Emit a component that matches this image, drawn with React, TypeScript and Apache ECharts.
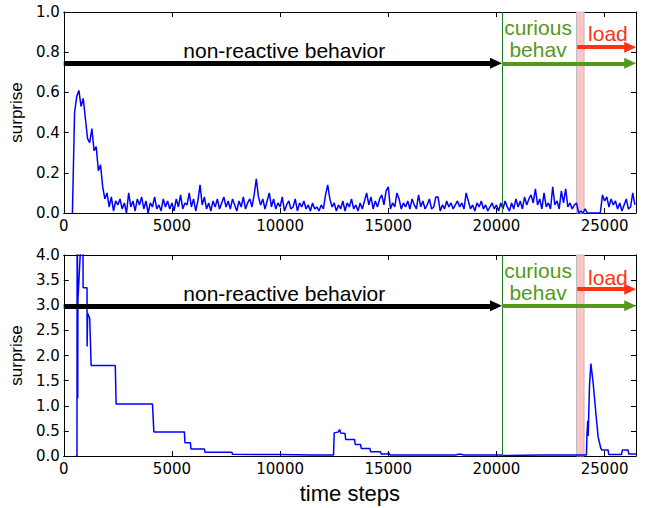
import React, { useEffect, useRef } from 'react';
import * as echarts from 'echarts';

// ---------- data ----------
const X_MAX = 26450;
const X_TICK_STEP = 5000;
const TOP_Y_MAX = 1.0;
const TOP_Y_STEP = 0.2;
const BOTTOM_Y_MAX = 4.0;
const BOTTOM_Y_STEP = 0.5;

// top panel: surprise sampled every 100 time steps starting at 400
const TOP_START = 400;
const TOP_STEP = 100;
const topSurprise = [
  0.00, 0.50, 0.58, 0.61, 0.53, 0.57, 0.47, 0.37, 0.35, 0.42,
  0.31, 0.33, 0.21, 0.24, 0.13, 0.07, 0.10, 0.03, 0.08, 0.01,
  0.06, 0.04, 0.07, 0.02, 0.05, 0.00, 0.10, 0.03, 0.06, 0.01,
  0.07, 0.04, 0.08, 0.02, 0.06, 0.00, 0.05, 0.03, 0.08, 0.02,
  0.04, 0.01, 0.07, 0.03, 0.06, 0.02, 0.05, 0.01, 0.07, 0.03,
  0.09, 0.02, 0.05, 0.04, 0.10, 0.03, 0.07, 0.01, 0.06, 0.14,
  0.04, 0.08, 0.02, 0.05, 0.01, 0.06, 0.03, 0.07, 0.02, 0.05,
  0.08, 0.03, 0.06, 0.02, 0.07, 0.04, 0.01, 0.06, 0.03, 0.08,
  0.02, 0.05, 0.07, 0.03, 0.09, 0.17, 0.08, 0.04, 0.07, 0.02,
  0.06, 0.10, 0.03, 0.07, 0.02, 0.05, 0.03, 0.08, 0.01, 0.04,
  0.06, 0.02, 0.03, 0.07, 0.01, 0.05, 0.03, 0.06, 0.02, 0.04,
  0.01, 0.05, 0.02, 0.03, 0.01, 0.04, 0.02, 0.09, 0.14, 0.07,
  0.03, 0.05, 0.01, 0.04, 0.02, 0.06, 0.01, 0.05, 0.03, 0.07,
  0.02, 0.04, 0.01, 0.05, 0.02, 0.06, 0.10, 0.04, 0.08, 0.02,
  0.06, 0.03, 0.07, 0.09, 0.04, 0.11, 0.13, 0.02, 0.05, 0.03,
  0.10, 0.07, 0.02, 0.05, 0.03, 0.06, 0.02, 0.07, 0.04, 0.02,
  0.09, 0.03, 0.06, 0.02, 0.04, 0.07, 0.02, 0.03, 0.08, 0.08,
  0.01, 0.04, 0.02, 0.06, 0.03, 0.05, 0.02, 0.04, 0.06, 0.03,
  0.05, 0.02, 0.10, 0.06, 0.02, 0.04, 0.01, 0.05, 0.03, 0.06,
  0.02, 0.04, 0.01, 0.03, 0.05, 0.02, 0.04, 0.01, 0.05, 0.02,
  0.06, 0.03, 0.01, 0.05, 0.02, 0.07, 0.03, 0.06, 0.02, 0.08,
  0.04, 0.07, 0.09, 0.05, 0.12, 0.04, 0.07, 0.02, 0.10, 0.03,
  0.05, 0.02, 0.13, 0.04, 0.06, 0.02, 0.11, 0.05, 0.12, 0.03,
  0.05, 0.02, 0.04, 0.05, 0.00, 0.01, 0.00, 0.02, 0.00, 0.00,
  0.00, 0.00, 0.00, 0.00, 0.00, 0.09, 0.06, 0.08, 0.03, 0.07,
  0.04, 0.06, 0.02, 0.05, 0.01, 0.04, 0.07, 0.02, 0.03, 0.10,
  0.04,
];

// bottom panel: [time step, surprise]
const bottomSurprise: [number, number][] = [
  [560, 0], [612, 0], [620, 6.0], [638, 3.1], [646, 1.15], [654, 3.1],
  [880, 5.0], [895, 3.35], [1075, 3.35], [1080, 2.18], [1105, 2.84],
  [1200, 2.74], [1265, 1.8], [2383, 1.8], [2420, 1.035], [4100, 1.035],
  [4165, 0.48], [5576, 0.48], [5600, 0.265], [5853, 0.265], [5880, 0.14],
  [6500, 0.14], [6530, 0.073], [7774, 0.073], [7800, 0.034], [10000, 0.03],
  [11500, 0.02], [12470, 0.02], [12500, 0.46], [12700, 0.48], [12750, 0.53],
  [12800, 0.46], [13000, 0.45], [13030, 0.33], [13440, 0.33], [13470, 0.23],
  [13720, 0.23], [13750, 0.15], [14150, 0.15], [14180, 0.086], [14640, 0.086],
  [14670, 0.04], [14950, 0.04], [15020, 0.07], [15080, 0.02], [18100, 0.02],
  [18300, 0.04], [18500, 0.02], [20200, 0.02], [20300, 0.01], [22000, 0.02],
  [23500, 0.02], [24160, 0.02], [24180, 0.38], [24220, 0.7], [24240, 0.4],
  [24300, 1.4], [24364, 1.84], [24470, 1.45], [24595, 0.85], [24700, 0.38],
  [24825, 0.15], [24870, 0.12], [25160, 0.12], [25190, 0.03], [25780, 0.03],
  [25820, 0.12], [26080, 0.12], [26120, 0.04], [26450, 0.04],
];

// phases
const CURIOUS_START = 20250;
const LOAD_BAND: [number, number] = [23700, 24050];
const LOAD_START = 23730;
const TOP_ARROW_Y = 0.745;
const TOP_LOAD_Y = 0.825;
const BOTTOM_ARROW_Y = 2.99;
const BOTTOM_LOAD_Y = 3.32;

// annotation labels
const LABEL_NONREACTIVE = 'non-reactive behavior';
const LABEL_CURIOUS = 'curious';
const LABEL_BEHAV = 'behav';
const LABEL_LOAD = 'load';
const NONREACTIVE_X = 10194;
const CURIOUS_X = 21922;
const LOAD_X = 25150;
const TOP_LABEL_Y = { nonreactive: 0.806, curious: 0.922, behav: 0.811, load: 0.894 };
const BOTTOM_LABEL_Y = { nonreactive: 3.23, curious: 3.69, behav: 3.25, load: 3.56 };

// ---------- styles ----------
const FONT_TICK = 'DejaVu Sans';
const FONT_TEXT = "'Liberation Sans', Arial, sans-serif";
const BLUE = '#0000ff';
const GREEN = '#55991a';
const VLINE_GREEN = '#1f7a1f';
const RED = '#ff3311';
const PINK = '#ffc4c4';
const HEAD_BACK = 270; // arrow head half length in data units

const GRID_LEFT = 62;
const GRID_RIGHT = 10;
const GRID_H = 201;
const TOP_GRID_TOP = 12;
const BOTTOM_GRID_TOP = 255;

function makeXAxes(gridIndex: number, withName: boolean) {
  const common: any = {
    type: 'value',
    gridIndex,
    min: 0,
    max: X_MAX,
    interval: X_TICK_STEP,
    splitLine: { show: false },
    axisLine: { onZero: false, lineStyle: { color: '#000', width: 1 } },
    axisTick: { inside: true, length: 5, lineStyle: { color: '#000', width: 1 } },
  };
  return [
    {
      ...common,
      position: 'bottom',
      axisLabel: {
        fontFamily: FONT_TICK,
        fontSize: 15,
        color: '#000',
        margin: 5,
        formatter: (v: number) => (v % X_TICK_STEP === 0 ? String(v) : ''),
      },
      ...(withName
        ? {
            name: 'time steps',
            nameLocation: 'middle',
            nameGap: 26,
            nameTextStyle: { fontFamily: FONT_TEXT, fontSize: 22, color: '#000' },
          }
        : {}),
    },
    { ...common, position: 'top', axisLabel: { show: false } },
  ];
}

function makeYAxes(gridIndex: number, max: number, step: number) {
  const common: any = {
    type: 'value',
    gridIndex,
    min: 0,
    max,
    interval: step,
    splitLine: { show: false },
    axisLine: { onZero: false, lineStyle: { color: '#000', width: 1 } },
    axisTick: { inside: true, length: 5, lineStyle: { color: '#000', width: 1 } },
  };
  return [
    {
      ...common,
      position: 'left',
      axisLabel: {
        fontFamily: FONT_TICK,
        fontSize: 15,
        color: '#000',
        margin: 4,
        formatter: (v: number) => v.toFixed(1),
      },
      name: 'surprise',
      nameLocation: 'middle',
      nameGap: 33,
      nameTextStyle: { fontFamily: FONT_TEXT, fontSize: 17, color: '#000' },
    },
    { ...common, position: 'right', axisLabel: { show: false } },
  ];
}

function arrow(x0: number, x1: number, y: number, color: string, width: number) {
  return [
    { coord: [x0, y], symbol: 'none', lineStyle: { color, width, type: 'solid' } },
    { coord: [x1 - HEAD_BACK, y], symbol: 'triangle', symbolSize: [11, 12] },
  ];
}

function label(text: string, x: number, y: number, color: string) {
  return {
    coord: [x, y],
    symbol: 'circle',
    symbolSize: 1,
    itemStyle: { color: 'transparent' },
    label: {
      show: true,
      position: 'inside',
      formatter: text,
      color,
      fontFamily: FONT_TEXT,
      fontSize: 21,
    },
  };
}

function annotations(arrowY: number, loadY: number, ly: any) {
  return {
    markLine: {
      silent: true,
      animation: false,
      label: { show: false },
      symbol: ['none', 'none'],
      data: [
        { xAxis: CURIOUS_START, symbol: 'none', lineStyle: { color: VLINE_GREEN, width: 1, type: 'solid' } },
        arrow(0, CURIOUS_START, arrowY, '#000', 5),
        arrow(CURIOUS_START, X_MAX, arrowY, GREEN, 4),
        arrow(LOAD_START, X_MAX, loadY, RED, 4),
      ],
    },
    markArea: {
      silent: true,
      data: [
        [
          { xAxis: LOAD_BAND[0], itemStyle: { color: PINK, borderColor: '#bdbdbd', borderWidth: 1 } },
          { xAxis: LOAD_BAND[1] },
        ],
      ],
    },
    markPoint: {
      silent: true,
      animation: false,
      data: [
        label(LABEL_NONREACTIVE, NONREACTIVE_X, ly.nonreactive, '#000'),
        label(LABEL_CURIOUS, CURIOUS_X, ly.curious, GREEN),
        label(LABEL_BEHAV, CURIOUS_X, ly.behav, GREEN),
        label(LABEL_LOAD, LOAD_X, ly.load, RED),
      ],
    },
  };
}

export default function App() {
  const ref = useRef<HTMLDivElement>(null);

  useEffect(() => {
    if (!ref.current) return;
    const chart = echarts.init(ref.current, undefined, { renderer: 'svg' });
    const topData = topSurprise.map((v, i) => [TOP_START + i * TOP_STEP, v]);

    chart.setOption({
      animation: false,
      backgroundColor: '#fff',
      grid: [
        { left: GRID_LEFT, right: GRID_RIGHT, top: TOP_GRID_TOP, height: GRID_H, containLabel: false },
        { left: GRID_LEFT, right: GRID_RIGHT, top: BOTTOM_GRID_TOP, height: GRID_H, containLabel: false },
      ],
      xAxis: [...makeXAxes(0, false), ...makeXAxes(1, true)],
      yAxis: [...makeYAxes(0, TOP_Y_MAX, TOP_Y_STEP), ...makeYAxes(1, BOTTOM_Y_MAX, BOTTOM_Y_STEP)],
      series: [
        {
          type: 'line',
          xAxisIndex: 0,
          yAxisIndex: 0,
          data: topData,
          showSymbol: false,
          symbol: 'none',
          clip: true,
          lineStyle: { color: BLUE, width: 1.5 },
          ...annotations(TOP_ARROW_Y, TOP_LOAD_Y, TOP_LABEL_Y),
        },
        {
          type: 'line',
          xAxisIndex: 2,
          yAxisIndex: 2,
          data: bottomSurprise,
          showSymbol: false,
          symbol: 'none',
          clip: true,
          lineStyle: { color: BLUE, width: 1.5 },
          ...annotations(BOTTOM_ARROW_Y, BOTTOM_LOAD_Y, BOTTOM_LABEL_Y),
        },
      ],
    });

    return () => chart.dispose();
  }, []);

  return (
    <div
      ref={ref}
      style={{ position: 'absolute', left: 0, top: 0, width: 646, height: 508 }}
    />
  );
}
